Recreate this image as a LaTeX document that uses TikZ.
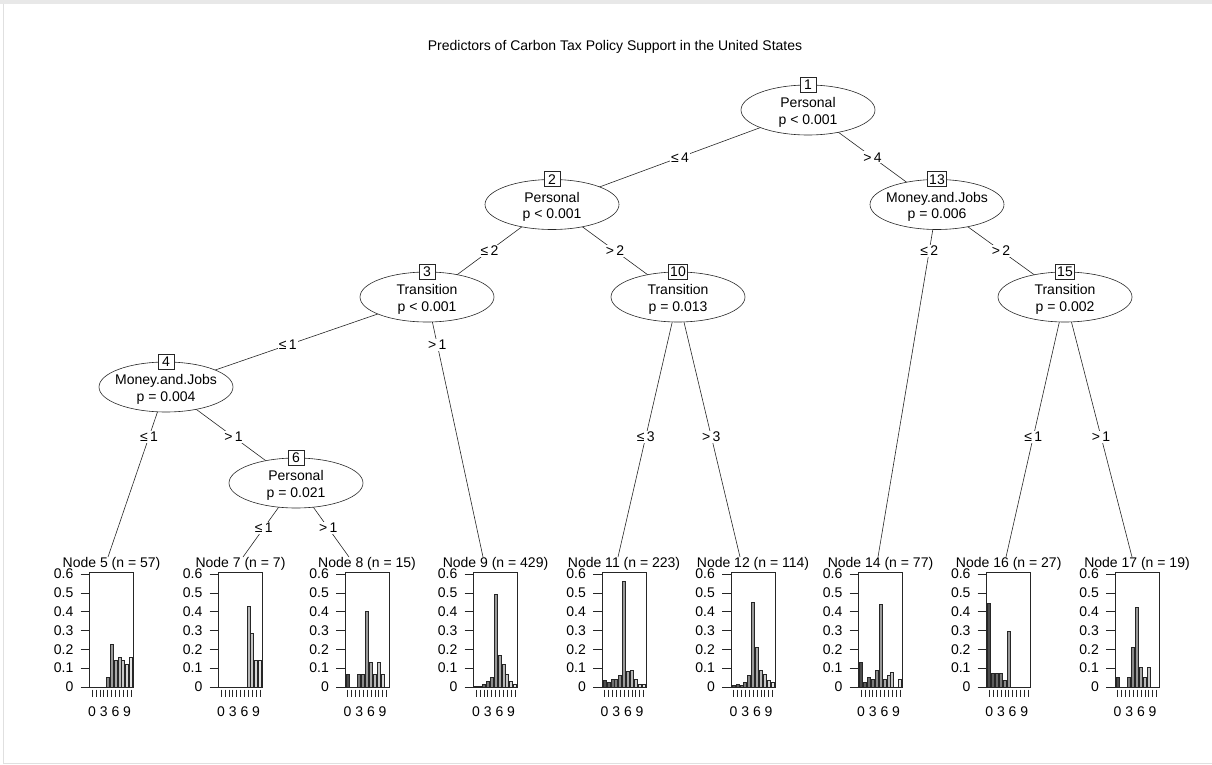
\documentclass[tikz,border=0pt]{standalone}
\usepackage{fontspec}
\setmainfont{Liberation Sans}
\usetikzlibrary{shapes.geometric}

% one terminal panel: #1 node number, #2 centre x, #3 sample size,
% #4 relative frequencies of the 11 response levels, #5 x where the connector ends
\newcommand\termpanel[5]{%
  \coordinate (a#1) at (#5,557);
  \begin{scope}[shift={(#2,687)}]
    \node[tlab] (t#1) at (0,-123) {Node #1 (n = #3)};
    \foreach \v [count=\k from 0] in {#4} {
      \pgfmathtruncatemacro\gl{70-6*\k}
      \draw[bar, fill=black!\gl] ({-19.5+3.9*\k-1.5},0) rectangle ({-19.5+3.9*\k+1.5},{-188.3*\v});
    }
    \draw[panel] (-22,0) rectangle (22,-115);
    \foreach \t/\lab in {0/0,1/0.1,2/0.2,3/0.3,4/0.4,5/0.5,6/0.6} {
      \draw[tick] (-31,{-18.83*\t}) -- (-22,{-18.83*\t});
      \node[ylab] (y#1-\t) at (-38,{-18.83*\t}) {\lab};
    }
    \foreach \k in {0,...,10} \draw[tick] ({-19.5+3.9*\k},2.5) -- ({-19.5+3.9*\k},10);
    \foreach \k in {0,3,6,9} \node[xlab] (x#1-\k) at ({-19.5+3.9*\k},25) {\k};
  \end{scope}}

\begin{document}
\begin{tikzpicture}[x=1pt,y=-1pt,
  every node/.style={font=\fontsize{14}{16.5}\selectfont, text=black},
  edge/.style={draw=black!85, line width=0.6pt},
  inner/.style={ellipse, draw=black!85, line width=0.6pt, fill=white,
    minimum width=134pt, minimum height=50pt, inner sep=0pt},
  ntext/.style={align=center, inner sep=0pt},
  idbox/.style={draw=black!85, line width=0.6pt, fill=white, inner sep=1.5pt,
    minimum height=15pt, minimum width=16pt},
  elab/.style={fill=white, inner sep=1pt},
  tlab/.style={inner sep=0pt},
  ylab/.style={anchor=east, inner sep=0pt},
  xlab/.style={inner sep=0pt},
  bar/.style={draw=black!85, line width=0.5pt},
  panel/.style={draw=black!85, line width=0.6pt},
  tick/.style={draw=black!85, line width=0.6pt}]

\useasboundingbox (0,0) rectangle (1212,765);

% page frame
\fill[black!9] (0,0) rectangle (1212,4);
\draw[black!12, line width=1pt] (3,4) -- (3,763) -- (1212,763);

\node (title) at (615,47) {Predictors of Carbon Tax Policy Support in the United States};

% positions of the inner nodes
\coordinate (c1) at (808,110);
\coordinate (c2) at (552,204.5);
\coordinate (c13) at (937,204.5);
\coordinate (c3) at (427,297);
\coordinate (c10) at (678,297);
\coordinate (c15) at (1065,297);
\coordinate (c4) at (166,387);
\coordinate (c6) at (296,483);

% terminal panels
\termpanel{5}{111.5}{57}{0,0,0,0,0.053,0.228,0.14,0.158,0.14,0.123,0.158}{108}
\termpanel{7}{240.5}{7}{0,0,0,0,0,0,0,0.429,0.286,0.143,0.143}{243}
\termpanel{8}{367}{15}{0.067,0,0,0.067,0.067,0.4,0.133,0.067,0.133,0.067,0}{349}
\termpanel{9}{495.5}{429}{0.002,0.005,0.014,0.028,0.05,0.49,0.17,0.12,0.07,0.03,0.012}{483}
\termpanel{11}{624}{223}{0.035,0.025,0.04,0.04,0.06,0.56,0.085,0.09,0.04,0.015,0.015}{618}
\termpanel{12}{753}{114}{0.01,0.015,0.01,0.025,0.06,0.45,0.21,0.09,0.07,0.035,0.025}{740}
\termpanel{14}{880.5}{77}{0.13,0.026,0.052,0.039,0.091,0.442,0.039,0.065,0.078,0,0.039}{878}
\termpanel{16}{1008.7}{27}{0.444,0.074,0.074,0.074,0.037,0.296,0,0,0,0,0}{1006}
\termpanel{17}{1137}{19}{0.053,0,0,0.053,0.211,0.421,0.105,0.053,0.105,0,0}{1132}

% connectors with split labels
\draw[edge] (c1) -- (c2) node[elab, pos=0.5] (e2) {≤\,4};
\draw[edge] (c1) -- (c13) node[elab, pos=0.5] (e13) {>\,4};
\draw[edge] (c2) -- (c3) node[elab, pos=0.5] (e3) {≤\,2};
\draw[edge] (c2) -- (c10) node[elab, pos=0.5] (e10) {>\,2};
\draw[edge] (c13) -- (a14) node[elab, pos=0.132] (e14) {≤\,2};
\draw[edge] (c13) -- (c15) node[elab, pos=0.5] (e15) {>\,2};
\draw[edge] (c3) -- (c4) node[elab, pos=0.533] (e4) {≤\,1};
\draw[edge] (c3) -- (a9) node[elab, pos=0.185] (e9) {>\,1};
\draw[edge] (c10) -- (a11) node[elab, pos=0.538] (e11) {≤\,3};
\draw[edge] (c10) -- (a12) node[elab, pos=0.538] (e12) {>\,3};
\draw[edge] (c15) -- (a16) node[elab, pos=0.538] (e16) {≤\,1};
\draw[edge] (c15) -- (a17) node[elab, pos=0.538] (e17) {>\,1};
\draw[edge] (c4) -- (a5) node[elab, pos=0.294] (e5) {≤\,1};
\draw[edge] (c4) -- (c6) node[elab, pos=0.52] (e6) {>\,1};
\draw[edge] (c6) -- (a7) node[elab, pos=0.608] (e7) {≤\,1};
\draw[edge] (c6) -- (a8) node[elab, pos=0.608] (e8) {>\,1};

% inner nodes
\foreach \i/\var/\p in {1/Personal/p < 0.001, 2/Personal/p < 0.001,
    13/Money.and.Jobs/p = 0.006, 3/Transition/p < 0.001, 10/Transition/p = 0.013,
    15/Transition/p = 0.002, 4/Money.and.Jobs/p = 0.004, 6/Personal/p = 0.021} {
  \node[inner] (n\i) at (c\i) {};
  \node[ntext] (n\i t) at ([yshift=-2.5pt]c\i) {\var\\\p};
  \node[idbox] (n\i id) at (n\i.north) {\i};
}
\end{tikzpicture}
\end{document}
